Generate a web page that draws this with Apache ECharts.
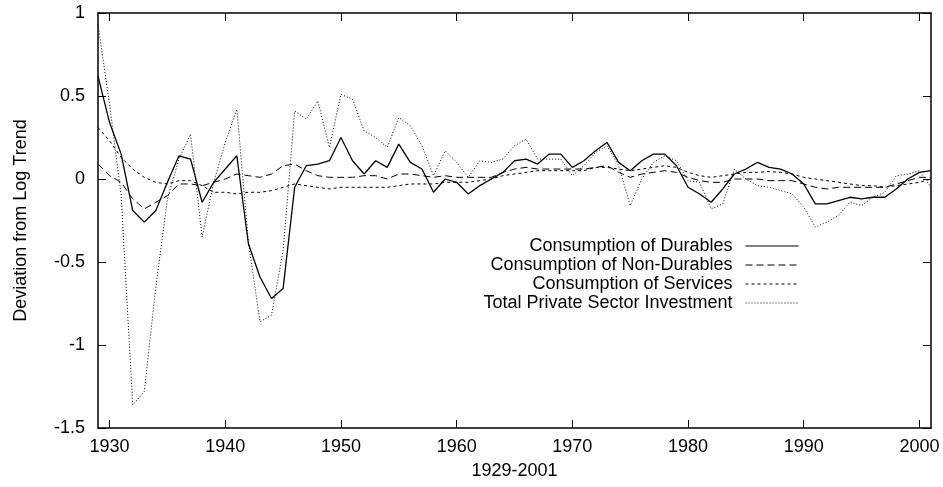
<!DOCTYPE html>
<html>
<head>
<meta charset="utf-8">
<script src="https://cdn.jsdelivr.net/npm/echarts@6/dist/echarts.min.js"></script>
<style>
  html, body { margin: 0; padding: 0; background: #fff; }
  #chart { width: 943px; height: 487px; }
</style>
</head>
<body>
<div id="chart"></div>
<script>
// years 1929..2001
const years = [];
for (let y = 1929; y <= 2001; y++) years.push(y);

const xTicks = [1930, 1940, 1950, 1960, 1970, 1980, 1990, 2000];

// one row per decade (1929 starts the first row)
const durables = [
  0.62,
  0.34, 0.15, -0.19, -0.26, -0.19, -0.02, 0.14, 0.12, -0.14, -0.02,
  0.06, 0.14, -0.39, -0.59, -0.72, -0.66, -0.05, 0.08, 0.09, 0.11,
  0.25, 0.11, 0.03, 0.11, 0.07, 0.21, 0.10, 0.06, -0.08, 0.00,
  -0.02, -0.09, -0.04, 0.00, 0.04, 0.11, 0.12, 0.09, 0.15, 0.15,
  0.07, 0.11, 0.17, 0.22, 0.10, 0.05, 0.11, 0.15, 0.15, 0.08,
  -0.05, -0.09, -0.14, -0.06, 0.03, 0.06, 0.10, 0.07, 0.06, 0.03,
  -0.03, -0.15, -0.15, -0.13, -0.11, -0.12, -0.11, -0.11, -0.06, 0.00,
  0.04, 0.05
];

const nonDurables = [
  0.09,
  0.02, -0.02, -0.12, -0.18, -0.14, -0.10, -0.03, -0.03, -0.04, -0.02,
  0.00, 0.03, 0.02, 0.01, 0.03, 0.08, 0.09, 0.05, 0.02, 0.01,
  0.01, 0.01, 0.02, 0.02, 0.00, 0.03, 0.03, 0.02, 0.01, 0.02,
  0.01, 0.01, 0.01, 0.01, 0.04, 0.06, 0.07, 0.06, 0.06, 0.06,
  0.06, 0.06, 0.07, 0.08, 0.04, 0.01, 0.03, 0.04, 0.05, 0.04,
  0.01, -0.01, -0.02, -0.02, 0.00, 0.00, 0.00, -0.01, -0.01, -0.01,
  -0.03, -0.05, -0.06, -0.05, -0.05, -0.05, -0.05, -0.05, -0.03, -0.01,
  0.01, 0.01
];

const services = [
  0.31,
  0.23, 0.13, 0.06, 0.01, -0.02, -0.03, -0.01, -0.01, -0.04, -0.08,
  -0.08, -0.09, -0.08, -0.08, -0.07, -0.05, -0.03, -0.04, -0.05, -0.06,
  -0.05, -0.05, -0.05, -0.05, -0.05, -0.04, -0.03, -0.03, -0.03, -0.02,
  -0.02, -0.02, -0.01, 0.00, 0.02, 0.03, 0.04, 0.05, 0.05, 0.05,
  0.05, 0.05, 0.07, 0.07, 0.06, 0.05, 0.06, 0.07, 0.08, 0.07,
  0.04, 0.02, 0.01, 0.02, 0.03, 0.04, 0.04, 0.045, 0.04, 0.03,
  0.01, 0.00, -0.01, -0.02, -0.03, -0.04, -0.04, -0.05, -0.04, -0.03,
  -0.02, 0.00
];

const investment = [
  0.93,
  0.45, -0.10, -1.36, -1.28, -0.65, -0.12, 0.12, 0.27, -0.35, -0.02,
  0.22, 0.42, -0.38, -0.86, -0.82, -0.43, 0.41, 0.36, 0.47, 0.19,
  0.51, 0.48, 0.29, 0.25, 0.19, 0.37, 0.32, 0.20, 0.02, 0.17,
  0.10, 0.01, 0.11, 0.10, 0.12, 0.20, 0.24, 0.12, 0.12, 0.12,
  0.02, 0.08, 0.16, 0.20, 0.08, -0.16, 0.00, 0.10, 0.14, 0.11,
  -0.01, -0.02, -0.18, -0.15, 0.06, 0.00, -0.04, -0.05, -0.07, -0.09,
  -0.17, -0.29, -0.26, -0.22, -0.14, -0.16, -0.11, -0.08, 0.02, 0.03,
  0.05, -0.05
];

const seriesNames = [
  "Consumption of Durables",
  "Consumption of Non-Durables",
  "Consumption of Services",
  "Total Private Sector Investment"
];

const FONT = "Liberation Sans";
const FS = 18;

function pairs(values) {
  return years.map((y, i) => [y, values[i]]);
}

function lineSeries(name, values, type, width) {
  return {
    name: name,
    type: "line",
    symbol: "none",
    showSymbol: false,
    data: pairs(values),
    lineStyle: { color: "#000", width: width, type: type },
    itemStyle: { color: "#000" },
    emphasis: { disabled: true }
  };
}

const frameLine = { show: true, onZero: false, lineStyle: { color: "#000", width: 1.5 } };
const tickStyle = { color: "#000", width: 1 };

const chart = echarts.init(document.getElementById("chart"), null, { renderer: "canvas" });

chart.setOption({
  animation: false,
  backgroundColor: "#fff",
  grid: { left: 98, right: 12, top: 13, bottom: 59 },
  legend: {
    data: seriesNames,
    orient: "vertical",
    align: "right",
    right: 144,
    top: 237,
    padding: 0,
    itemWidth: 53,
    itemHeight: 14,
    itemGap: 1,
    selectedMode: false,
    itemStyle: { opacity: 0 },
    lineStyle: { width: 1 },
    textStyle: { fontFamily: FONT, fontSize: FS, lineHeight: 18, color: "#000", padding: [0, 8, 0, 0] }
  },
  xAxis: [
    {
      type: "value",
      min: 1929,
      max: 2001,
      position: "bottom",
      axisLine: frameLine,
      axisTick: { show: true, inside: true, length: 8, customValues: xTicks, lineStyle: tickStyle },
      axisLabel: {
        customValues: xTicks,
        formatter: (v) => String(v),
        color: "#000", fontFamily: FONT, fontSize: FS, margin: 10
      },
      splitLine: { show: false },
      name: "1929-2001",
      nameLocation: "middle",
      nameGap: 34,
      nameTextStyle: { color: "#000", fontFamily: FONT, fontSize: FS }
    },
    {
      type: "value",
      min: 1929,
      max: 2001,
      position: "top",
      axisLine: frameLine,
      axisTick: { show: true, inside: true, length: 8, customValues: xTicks, lineStyle: tickStyle },
      axisLabel: { show: false },
      splitLine: { show: false }
    }
  ],
  yAxis: [
    {
      type: "value",
      min: -1.5,
      max: 1,
      interval: 0.5,
      position: "left",
      axisLine: frameLine,
      axisTick: { show: true, inside: true, length: 8, lineStyle: tickStyle },
      axisLabel: { color: "#000", fontFamily: FONT, fontSize: FS, margin: 13 },
      splitLine: { show: false },
      name: "Deviation from Log Trend",
      nameLocation: "middle",
      nameGap: 68,
      nameRotate: 90,
      nameTextStyle: { color: "#000", fontFamily: FONT, fontSize: FS }
    },
    {
      type: "value",
      min: -1.5,
      max: 1,
      interval: 0.5,
      position: "right",
      axisLine: frameLine,
      axisTick: { show: true, inside: true, length: 8, lineStyle: tickStyle },
      axisLabel: { show: false },
      splitLine: { show: false }
    }
  ],
  series: [
    lineSeries(seriesNames[0], durables, "solid", 1.3),
    lineSeries(seriesNames[1], nonDurables, [7, 4], 1),
    lineSeries(seriesNames[2], services, [3, 3], 1),
    lineSeries(seriesNames[3], investment, [1, 2], 1)
  ]
});
</script>
</body>
</html>
